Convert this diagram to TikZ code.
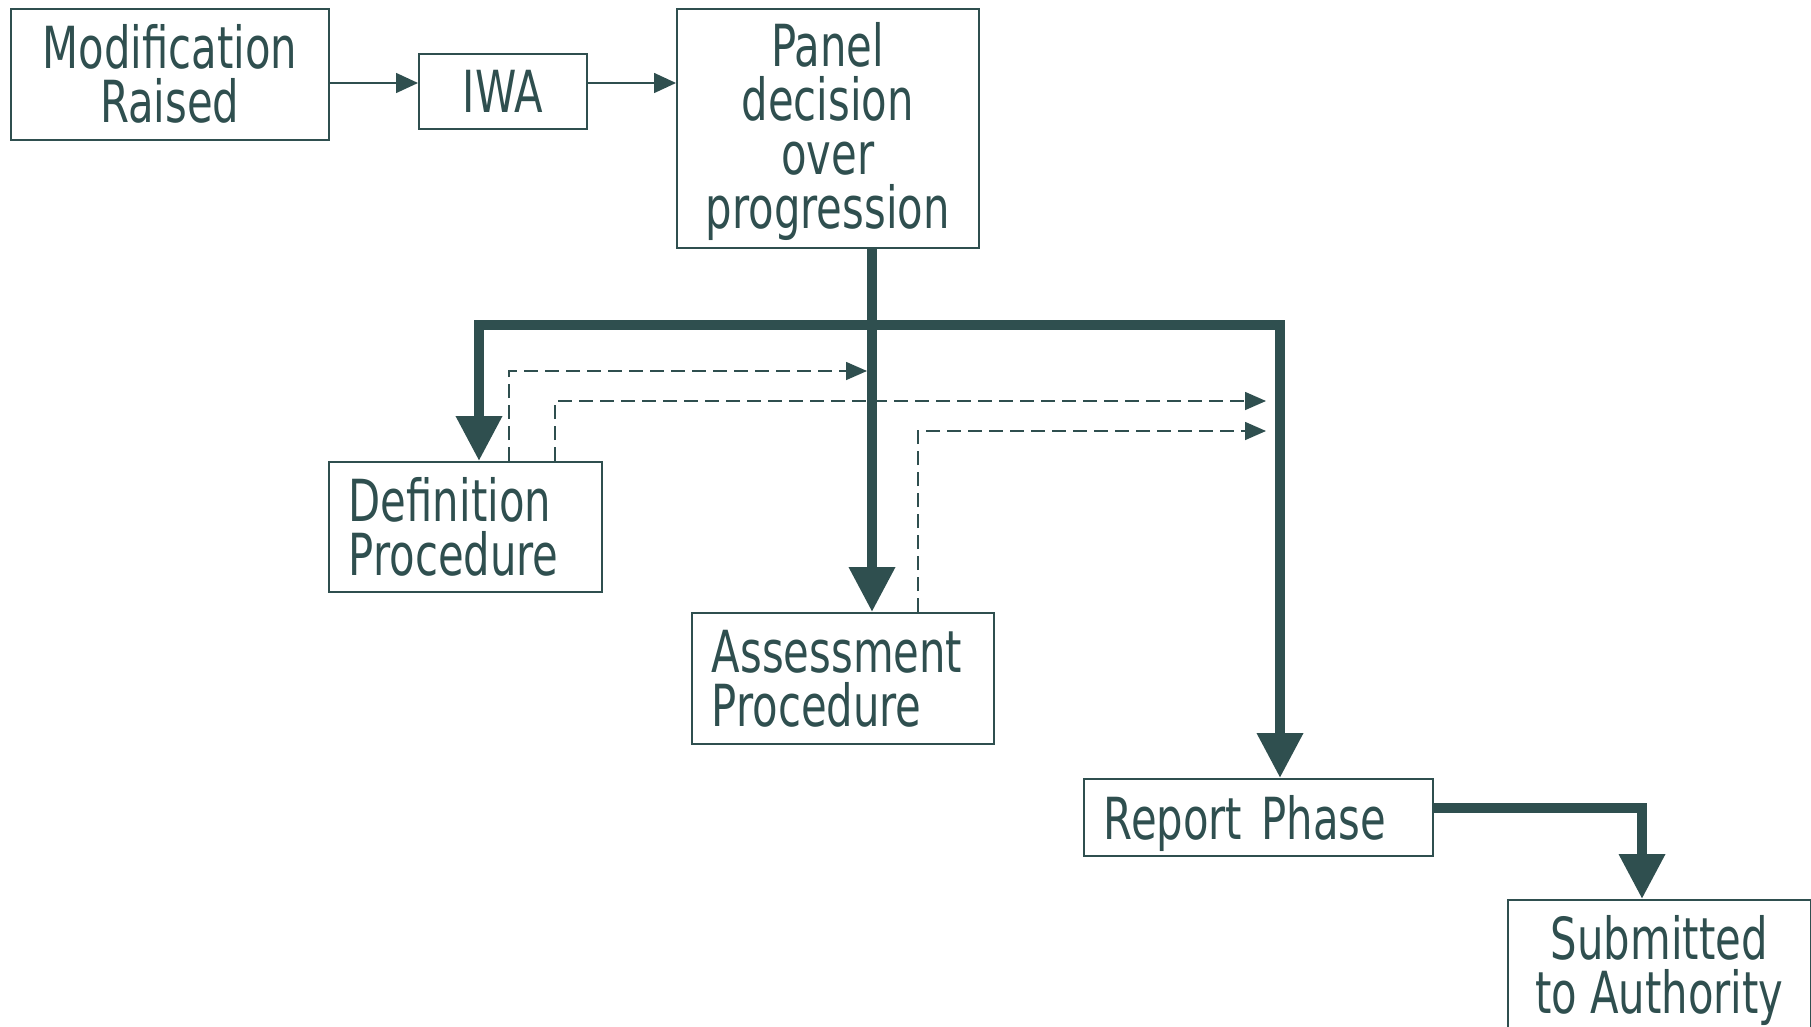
\documentclass[tikz,border=0pt]{standalone}
\usepackage{fontspec}
\setmainfont[FakeStretch=0.72]{DejaVu Sans}
\usetikzlibrary{arrows.meta}
\definecolor{dslate}{HTML}{2F4F4F}
\newcommand{\boxfont}{\fontsize{58pt}{54pt}\selectfont}
\tikzset{
  box/.style={draw=dslate, line width=1.6pt, text=dslate, font=\boxfont, inner sep=0pt, anchor=north west},
  lbox/.style={box, align=left, inner xsep=20pt},
  cbox/.style={box, align=center},
  thin/.style={draw=dslate, line width=1.6pt, -{Triangle[length=22pt,width=20pt]}},
  thickarr/.style={draw=dslate, line width=10pt, line join=miter, -{Triangle[length=45pt,width=44pt]}},
  dasharr/.style={draw=dslate, line width=1.6pt, dash pattern=on 14pt off 7pt, -{Triangle[length=21pt,width=18pt]}},
}
\begin{document}
\begin{tikzpicture}[x=1pt,y=-1pt]
\useasboundingbox (0,0) rectangle (1811,1027);
% nodes
\node[cbox, minimum width=318pt, minimum height=131pt] (mod) at (10,8) {Modification\\Raised};
\node[cbox, minimum width=168pt, minimum height=75pt] (iwa) at (418,53) {IWA};
\node[cbox, minimum width=302pt, minimum height=239pt, text depth=6pt] (panel) at (676,8) {Panel\\decision\\over\\progression};
\node[lbox, text width=233pt, minimum height=130pt] (def) at (328,461) {Definition\\Procedure};
\node[lbox, text width=262pt, minimum height=131pt] (assess) at (691,612) {Assessment\\Procedure};
\node[lbox, text width=309pt, minimum height=77pt, text depth=0pt] (report) at (1083,778) {Report Phase};
\node[cbox, minimum width=303pt, minimum height=130pt, text depth=0pt] (sub) at (1507,899) {Submitted\\to Authority};
% helper coordinates
\coordinate (r1) at (0,83);
\coordinate (trunk) at (872,0);
\coordinate (bar) at (0,325);
\coordinate (dx) at (479,0);
\coordinate (rx) at (1280,0);
\coordinate (sx) at (1642,0);
\coordinate (ry) at (0,808);
\coordinate (d1x) at (509,0);
\coordinate (d1y) at (0,371);
\coordinate (d1e) at (867,0);
\coordinate (d2x) at (555,0);
\coordinate (d2y) at (0,401);
\coordinate (d3x) at (918,0);
\coordinate (d3y) at (0,431);
\coordinate (de) at (1266,0);
% thin arrows
\draw[thin] (mod.east |- r1) -- (iwa.west |- r1);
\draw[thin] (iwa.east |- r1) -- (panel.west |- r1);
% thick arrows
\draw[thickarr] (panel.south -| trunk) -- (assess.north -| trunk);
\draw[thickarr] (trunk |- bar) -| (def.north -| dx);
\draw[thickarr] (trunk |- bar) -| (report.north -| rx);
\draw[thickarr] (report.east |- ry) -| (sub.north -| sx);
% dashed arrows
\draw[dasharr] (def.north -| d1x) |- (d1e |- d1y);
\draw[dasharr] (def.north -| d2x) |- (de |- d2y);
\draw[dasharr] (assess.north -| d3x) |- (de |- d3y);
\end{tikzpicture}
\end{document}
